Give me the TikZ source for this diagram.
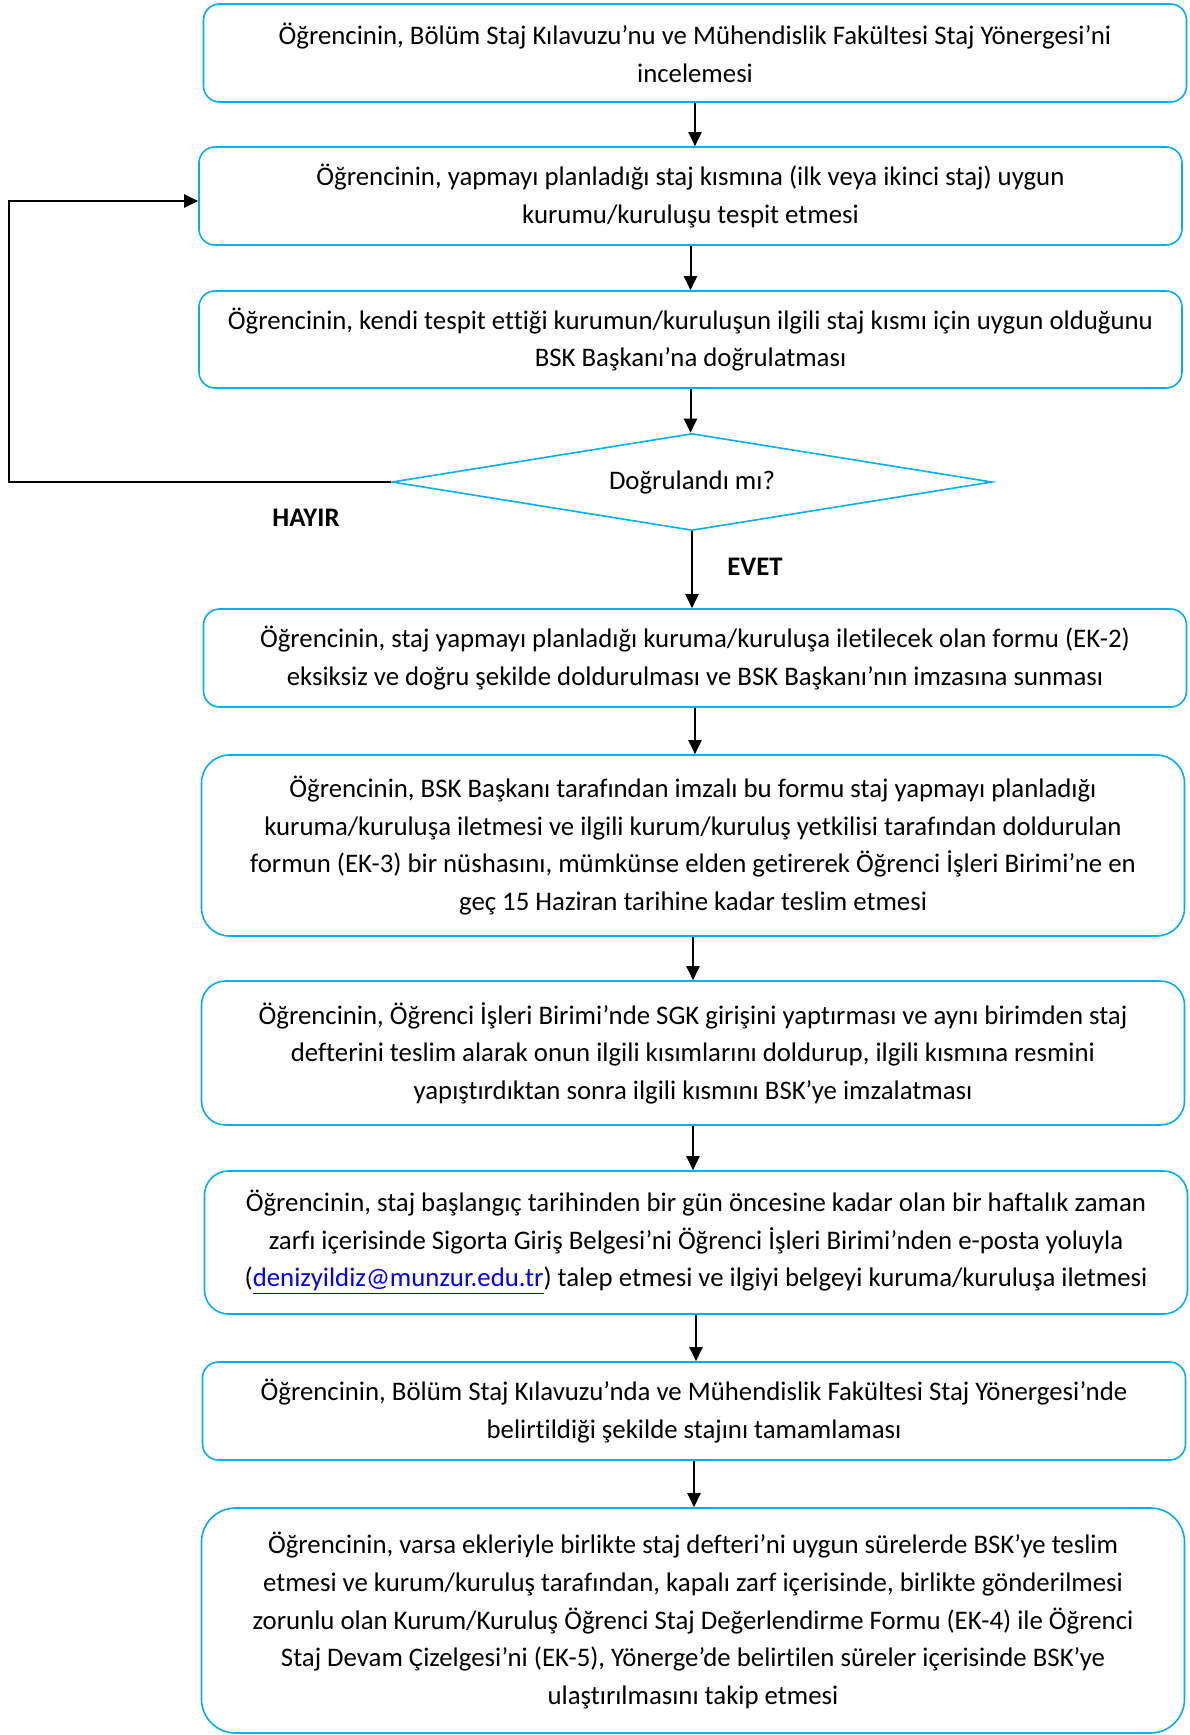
\documentclass[tikz,border=0pt]{standalone}
\usepackage{fontspec}
\setmainfont{Carlito}[Ligatures=NoCommon]
\usetikzlibrary{shapes.geometric,arrows.meta}
\definecolor{kutu}{HTML}{00B0F0}
\definecolor{baglanti}{HTML}{0000FF}
\begin{document}
\begin{tikzpicture}[x=0.5pt,y=-0.5pt]
		\tikzset{adim/.style = {shape=rectangle, rounded corners=8pt, draw=kutu, line width=0.8pt, minimum width=491.5pt, minimum height=49pt, inner sep=0pt, align=center, font=\fontsize{13.4}{18.8}\selectfont},
			karar/.style = {shape=diamond, shape aspect=6.2, draw=kutu, line width=0.8pt, minimum width=300pt, minimum height=48.5pt, inner sep=0pt, font=\fontsize{13.4}{18.8}\selectfont},
			ok/.style = {line width=1pt, -{Triangle[length=7pt,width=6.5pt]}},
			cevap/.style = {font=\fontsize{13.4}{16}\selectfont\bfseries}}

		\useasboundingbox (0,0) rectangle (1189,1735);

		\node[adim] (K_1) at (695,53) {Öğrencinin, Bölüm Staj Kılavuzu’nu ve Mühendislik Fakültesi Staj Yönergesi’ni\\ incelemesi};
		\node[adim] (K_2) at (690.5,196) {Öğrencinin, yapmayı planladığı staj kısmına (ilk veya ikinci staj) uygun\\ kurumu/kuruluşu tespit etmesi};
		\node[adim, minimum height=48.5pt] (K_3) at (690.5,339.5) {Öğrencinin, kendi tespit ettiği kurumun/kuruluşun ilgili staj kısmı için uygun olduğunu\\ BSK Başkanı’na doğrulatması};
		\node[karar] (D) at (692,482) {Doğrulandı mı?};
		\node[adim] (K_4) at (695,658) {Öğrencinin, staj yapmayı planladığı kuruma/kuruluşa iletilecek olan formu (EK-2)\\ eksiksiz ve doğru şekilde doldurulması ve BSK Başkanı’nın imzasına sunması};
		\node[adim, minimum height=90.5pt, rounded corners=14pt] (K_5) at (693,845.5) {Öğrencinin, BSK Başkanı tarafından imzalı bu formu staj yapmayı planladığı\\ kuruma/kuruluşa iletmesi ve ilgili kurum/kuruluş yetkilisi tarafından doldurulan\\ formun (EK-3) bir nüshasını, mümkünse elden getirerek Öğrenci İşleri Birimi’ne en\\ geç 15 Haziran tarihine kadar teslim etmesi};
		\node[adim, minimum height=72pt, rounded corners=12pt] (K_6) at (693,1053) {Öğrencinin, Öğrenci İşleri Birimi’nde SGK girişini yaptırması ve aynı birimden staj\\ defterini teslim alarak onun ilgili kısımlarını doldurup, ilgili kısmına resmini\\ yapıştırdıktan sonra ilgili kısmını BSK’ye imzalatması};
		\node[adim, minimum height=71.5pt, rounded corners=12pt] (K_7) at (696,1242.5) {Öğrencinin, staj başlangıç tarihinden bir gün öncesine kadar olan bir haftalık zaman\\ zarfı içerisinde Sigorta Giriş Belgesi’ni Öğrenci İşleri Birimi’nden e-posta yoluyla\\ (\textcolor{baglanti}{\underline{denizyildiz@munzur.edu.tr}}) talep etmesi ve ilgiyi belgeyi kuruma/kuruluşa iletmesi};
		\node[adim] (K_8) at (694,1411) {Öğrencinin, Bölüm Staj Kılavuzu’nda ve Mühendislik Fakültesi Staj Yönergesi’nde\\ belirtildiği şekilde stajını tamamlaması};
		\node[adim, minimum height=112.5pt, rounded corners=17pt] (K_9) at (693,1620.5) {Öğrencinin, varsa ekleriyle birlikte staj defteri’ni uygun sürelerde BSK’ye teslim\\ etmesi ve kurum/kuruluş tarafından, kapalı zarf içerisinde, birlikte gönderilmesi\\ zorunlu olan Kurum/Kuruluş Öğrenci Staj Değerlendirme Formu (EK-4) ile Öğrenci\\ Staj Devam Çizelgesi’ni (EK-5), Yönerge’de belirtilen süreler içerisinde BSK’ye\\ ulaştırılmasını takip etmesi};

		\node[cevap] (H) at (306,518) {HAYIR};
		\node[cevap] (E) at (755,567) {EVET};
		\coordinate (G) at (9,482);

		\draw[ok] (K_1.south) -- (K_1.south |- K_2.north);
		\draw[ok] (K_2.south) -- (K_2.south |- K_3.north);
		\draw[ok] (K_3.south) -- (K_3.south |- D.north);
		\draw[ok] (D.south) -- (D.south |- K_4.north);
		\draw[ok] (K_4.south) -- (K_4.south |- K_5.north);
		\draw[ok] (K_5.south) -- (K_5.south |- K_6.north);
		\draw[ok] (K_6.south) -- (K_6.south |- K_7.north);
		\draw[ok] (K_7.south) -- (K_7.south |- K_8.north);
		\draw[ok] (K_8.south) -- (K_8.south |- K_9.north);
		\draw[ok] (D.west) -- (G) |- ([yshift=-2.5pt]K_2.west);

	\end{tikzpicture}
\end{document}
